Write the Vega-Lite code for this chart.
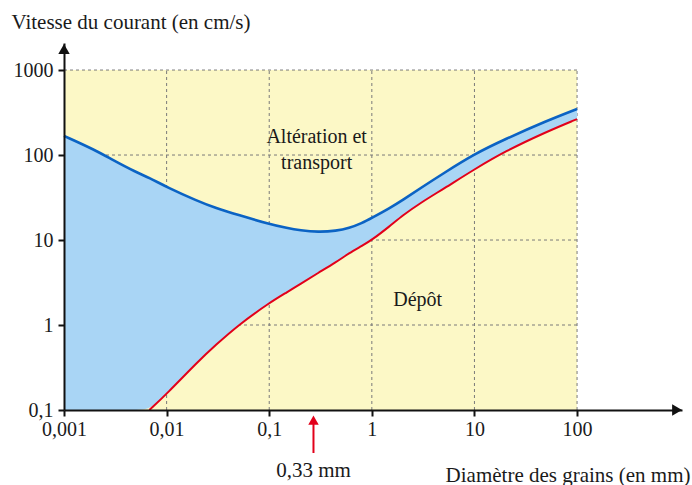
{
  "$schema": "https://vega.github.io/schema/vega-lite/v6.json",
  "width": 618,
  "height": 367,
  "autosize": {"type": "none"},
  "padding": {"left": 64, "top": 43, "right": 10, "bottom": 75},
  "background": "white",
  "config": {"view": {"stroke": null}, "font": "Liberation Serif, Times New Roman, serif"},
  "resolve": {"axis": {"x": "independent", "y": "independent"}},
  "datasets": {
    "courbes": [
      {"d": 0.001, "erosion": 168, "depot": null, "bas": 0.1},
      {"d": 0.002, "erosion": 115, "depot": null, "bas": 0.1},
      {"d": 0.003, "erosion": 87, "depot": null, "bas": 0.1},
      {"d": 0.005, "erosion": 63, "depot": null, "bas": 0.1},
      {"d": 0.0068, "erosion": 54, "depot": 0.1, "bas": 0.1},
      {"d": 0.01, "erosion": 42, "depot": 0.154, "bas": 0.154},
      {"d": 0.02, "erosion": 28.8, "depot": 0.367, "bas": 0.367},
      {"d": 0.03, "erosion": 23.8, "depot": 0.58, "bas": 0.58},
      {"d": 0.05, "erosion": 19.7, "depot": 1.0, "bas": 1.0},
      {"d": 0.1, "erosion": 15.4, "depot": 1.82, "bas": 1.82},
      {"d": 0.15, "erosion": 13.8, "depot": 2.44, "bas": 2.44},
      {"d": 0.2, "erosion": 13.0, "depot": 3.03, "bas": 3.03},
      {"d": 0.3, "erosion": 12.4, "depot": 4.1, "bas": 4.1},
      {"d": 0.45, "erosion": 12.8, "depot": 5.5, "bas": 5.5},
      {"d": 0.6, "erosion": 13.8, "depot": 7.0, "bas": 7.0},
      {"d": 0.8, "erosion": 15.8, "depot": 8.5, "bas": 8.5},
      {"d": 1, "erosion": 18.2, "depot": 10, "bas": 10},
      {"d": 1.5, "erosion": 23.8, "depot": 14.6, "bas": 14.6},
      {"d": 2, "erosion": 29.5, "depot": 19.5, "bas": 19.5},
      {"d": 3, "erosion": 41, "depot": 27.5, "bas": 27.5},
      {"d": 5, "erosion": 61, "depot": 40, "bas": 40},
      {"d": 10, "erosion": 103, "depot": 68, "bas": 68},
      {"d": 20, "erosion": 154, "depot": 111, "bas": 111},
      {"d": 50, "erosion": 251, "depot": 187, "bas": 187},
      {"d": 100, "erosion": 348, "depot": 265, "bas": 265}
    ],
    "fond": [{"d1": 0.001, "d2": 100, "v1": 0.1, "v2": 1000}],
    "gx": [{"d": 0.01}, {"d": 0.1}, {"d": 1}, {"d": 10}, {"d": 100}],
    "gy": [{"v": 1}, {"v": 10}, {"v": 100}, {"v": 1000}],
    "etiquettes": [
      {"d": 0.29, "v": 163, "texte": "Altération et"},
      {"d": 0.29, "v": 80.5, "texte": "transport"},
      {"d": 2.8, "v": 1.97, "texte": "Dépôt"}
    ],
    "fleches": [
      {"d": 0.001, "v": 1766, "forme": "triangle-up"},
      {"d": 944, "v": 0.1, "forme": "triangle-right"}
    ],
    "repere": [{"d": 0.27, "v1": 0.0312, "v2": 0.07, "vt": 0.076, "vl": 0.0191, "texte": "0,33 mm"}]
  },
  "layer": [
    {
      "data": {"name": "fond"},
      "mark": {"type": "rect", "color": "#fcf8c6"},
      "encoding": {
        "x": {"field": "d1", "type": "quantitative", "scale": {"type": "log", "domain": [0.001, 1054], "nice": false},
          "axis": {"values": [0.001, 0.01, 0.1, 1, 10, 100], "labelExpr": "replace(toString(datum.value), '.', ',')",
            "grid": false, "domainColor": "#111", "domainWidth": 2, "tickColor": "#111", "tickWidth": 2, "tickSize": 6,
            "labelFont": "Liberation Serif", "labelFontSize": 20, "labelColor": "#1a1a1a", "labelPadding": 3, "labelFlush": false,
            "title": "Diamètre des grains (en mm)", "titleFont": "Liberation Serif", "titleFontSize": 21, "titleFontWeight": "normal",
            "titleColor": "#1a1a1a", "titleX": 626, "titleY": 65, "titleAlign": "right", "titleBaseline": "middle", "zindex": 1}},
        "x2": {"field": "d2"},
        "y": {"field": "v1", "type": "quantitative", "scale": {"type": "log", "domain": [0.1, 2080], "nice": false},
          "axis": {"values": [0.1, 1, 10, 100, 1000], "labelExpr": "replace(toString(datum.value), '.', ',')",
            "grid": false, "domainColor": "#111", "domainWidth": 2, "tickColor": "#111", "tickWidth": 2, "tickSize": 6,
            "labelFont": "Liberation Serif", "labelFontSize": 20, "labelColor": "#1a1a1a", "labelPadding": 5,
            "title": "Vitesse du courant (en cm/s)", "titleFont": "Liberation Serif", "titleFontSize": 21, "titleFontWeight": "normal",
            "titleColor": "#1a1a1a", "titleAngle": 0, "titleX": -53, "titleY": -21, "titleAlign": "left", "titleBaseline": "middle", "zindex": 1}},
        "y2": {"field": "v2"}
      }
    },
    {
      "data": {"name": "gx"},
      "mark": {"type": "rule", "color": "#7a7a7a", "strokeDash": [3, 3], "strokeWidth": 1},
      "encoding": {
        "x": {"field": "d", "type": "quantitative", "scale": {"type": "log", "domain": [0.001, 1054], "nice": false}, "axis": null},
        "y": {"datum": 0.1, "type": "quantitative", "scale": {"type": "log", "domain": [0.1, 2080], "nice": false}, "axis": null},
        "y2": {"datum": 1000}
      }
    },
    {
      "data": {"name": "gy"},
      "mark": {"type": "rule", "color": "#7a7a7a", "strokeDash": [3, 3], "strokeWidth": 1},
      "encoding": {
        "y": {"field": "v", "type": "quantitative", "scale": {"type": "log", "domain": [0.1, 2080], "nice": false}, "axis": null},
        "x": {"datum": 0.001, "type": "quantitative", "scale": {"type": "log", "domain": [0.001, 1054], "nice": false}, "axis": null},
        "x2": {"datum": 100}
      }
    },
    {
      "data": {"name": "courbes"},
      "mark": {"type": "area", "color": "#a9d5f5", "interpolate": "basis"},
      "encoding": {
        "x": {"field": "d", "type": "quantitative", "scale": {"type": "log", "domain": [0.001, 1054], "nice": false}, "axis": null},
        "y": {"field": "erosion", "type": "quantitative", "scale": {"type": "log", "domain": [0.1, 2080], "nice": false}, "axis": null},
        "y2": {"field": "bas"}
      }
    },
    {
      "data": {"name": "courbes"},
      "mark": {"type": "line", "color": "#0b63c4", "strokeWidth": 2.6, "interpolate": "basis"},
      "encoding": {
        "x": {"field": "d", "type": "quantitative", "scale": {"type": "log", "domain": [0.001, 1054], "nice": false}, "axis": null},
        "y": {"field": "erosion", "type": "quantitative", "scale": {"type": "log", "domain": [0.1, 2080], "nice": false}, "axis": null}
      }
    },
    {
      "data": {"name": "courbes"},
      "transform": [{"filter": "datum.depot != null"}],
      "mark": {"type": "line", "color": "#e2001a", "strokeWidth": 2, "interpolate": "basis"},
      "encoding": {
        "x": {"field": "d", "type": "quantitative", "scale": {"type": "log", "domain": [0.001, 1054], "nice": false}, "axis": null},
        "y": {"field": "depot", "type": "quantitative", "scale": {"type": "log", "domain": [0.1, 2080], "nice": false}, "axis": null}
      }
    },
    {
      "data": {"name": "etiquettes"},
      "mark": {"type": "text", "font": "Liberation Serif", "fontSize": 20, "color": "#1a1a1a", "align": "center", "baseline": "middle"},
      "encoding": {
        "x": {"field": "d", "type": "quantitative", "scale": {"type": "log", "domain": [0.001, 1054], "nice": false}, "axis": null},
        "y": {"field": "v", "type": "quantitative", "scale": {"type": "log", "domain": [0.1, 2080], "nice": false}, "axis": null},
        "text": {"field": "texte"}
      }
    },
    {
      "data": {"name": "fleches"},
      "mark": {"type": "point", "filled": true, "color": "#111", "size": 130, "opacity": 1},
      "encoding": {
        "x": {"field": "d", "type": "quantitative", "scale": {"type": "log", "domain": [0.001, 1054], "nice": false}, "axis": null},
        "y": {"field": "v", "type": "quantitative", "scale": {"type": "log", "domain": [0.1, 2080], "nice": false}, "axis": null},
        "shape": {"field": "forme", "type": "nominal", "scale": null}
      }
    },
    {
      "data": {"name": "repere"},
      "mark": {"type": "rule", "color": "#e2001a", "strokeWidth": 2},
      "encoding": {
        "x": {"field": "d", "type": "quantitative", "scale": {"type": "log", "domain": [0.001, 1054], "nice": false}, "axis": null},
        "y": {"field": "v1", "type": "quantitative", "scale": {"type": "log", "domain": [0.1, 2080], "nice": false}, "axis": null},
        "y2": {"field": "v2"}
      }
    },
    {
      "data": {"name": "repere"},
      "mark": {"type": "point", "shape": "triangle-up", "filled": true, "color": "#e2001a", "size": 110, "opacity": 1},
      "encoding": {
        "x": {"field": "d", "type": "quantitative", "scale": {"type": "log", "domain": [0.001, 1054], "nice": false}, "axis": null},
        "y": {"field": "vt", "type": "quantitative", "scale": {"type": "log", "domain": [0.1, 2080], "nice": false}, "axis": null}
      }
    },
    {
      "data": {"name": "repere"},
      "mark": {"type": "text", "font": "Liberation Serif", "fontSize": 21, "color": "#1a1a1a", "align": "center", "baseline": "middle"},
      "encoding": {
        "x": {"field": "d", "type": "quantitative", "scale": {"type": "log", "domain": [0.001, 1054], "nice": false}, "axis": null},
        "y": {"field": "vl", "type": "quantitative", "scale": {"type": "log", "domain": [0.1, 2080], "nice": false}, "axis": null},
        "text": {"field": "texte"}
      }
    }
  ]
}
